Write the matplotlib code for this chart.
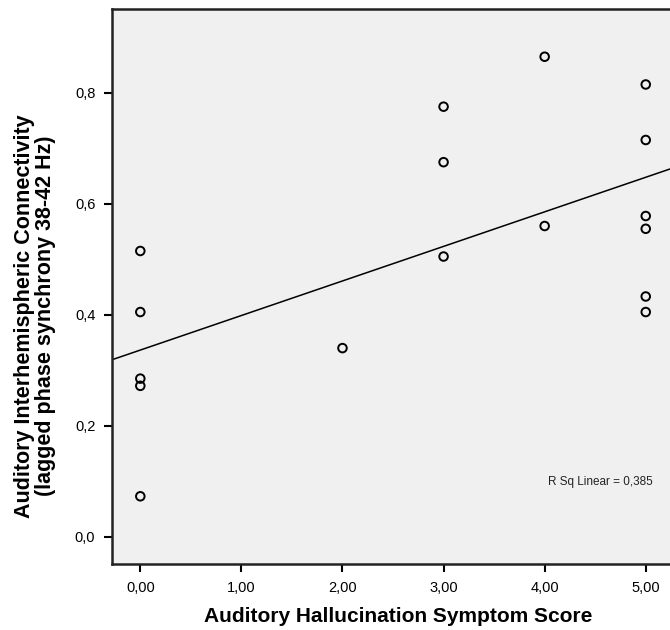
import numpy as np
import matplotlib
matplotlib.use("Agg")
import matplotlib.pyplot as plt
from matplotlib import font_manager

plt.rcParams['font.family'] = ['Liberation Sans', 'DejaVu Sans']
names = {f.name for f in font_manager.fontManager.ttflist}
narrow = 'Liberation Sans Narrow' if 'Liberation Sans Narrow' in names else 'Liberation Sans'

# Data
symptom_score = [0, 0, 0, 0, 0, 2, 3, 3, 3, 4, 4, 5, 5, 5, 5, 5, 5]
connectivity = [0.515, 0.405, 0.285, 0.272, 0.073, 0.340, 0.775, 0.675, 0.505,
                0.865, 0.560, 0.815, 0.715, 0.578, 0.555, 0.433, 0.405]
x_ticks = [0, 1, 2, 3, 4, 5]
x_tick_labels = ["0,00", "1,00", "2,00", "3,00", "4,00", "5,00"]
y_ticks = [0.0, 0.2, 0.4, 0.6, 0.8]
y_tick_labels = ["0,0", "0,2", "0,4", "0,6", "0,8"]
r_sq_text = "R Sq Linear = 0,385"

fig = plt.figure(figsize=(6.7, 6.3), dpi=100)
ax = fig.add_axes([112/670, 66/630, 1 - 112/670, (564 - 9)/630])
ax.set_facecolor('#f0f0f0')

xlim = (-0.28, 5.24)
ax.set_xlim(*xlim)
ax.set_ylim(-0.049, 0.951)

# Regression line
x = np.array(symptom_score, dtype=float)
y = np.array(connectivity)
slope, intercept = np.polyfit(x, y, 1)
xs = np.array(xlim)
ax.plot(xs, intercept + slope * xs, color='black', linewidth=1.1, zorder=2)

ax.scatter(x, y, s=38, facecolors='none', edgecolors='black', linewidths=1.4, zorder=3)

ax.text(4.03, 0.098, r_sq_text, fontsize=8.5, color='#222222', ha='left', va='center',
        family=narrow)

ax.set_xticks(x_ticks)
ax.set_xticklabels(x_tick_labels, family=narrow)
ax.set_yticks(y_ticks)
ax.set_yticklabels(y_tick_labels, family=narrow)
ax.tick_params(direction='out', length=6, width=1.5, labelsize=10.5, pad=6, colors='black')

ax.spines['right'].set_visible(False)
for side in ['left', 'bottom', 'top']:
    ax.spines[side].set_linewidth(1.8)
    ax.spines[side].set_color('#222222')

ax.set_xlabel("Auditory Hallucination Symptom Score", fontsize=15, fontweight='bold')
ax.xaxis.set_label_coords(0.513, -0.094)
ax.xaxis.label.set_va('center')
ax.set_ylabel("Auditory Interhemispheric Connectivity\n(lagged phase synchrony 38-42 Hz)",
              fontsize=15.5, fontweight='bold', linespacing=1.0)
ax.yaxis.set_label_coords(-0.138, 0.447)
ax.yaxis.label.set_va('center')

fig.savefig("out.png", dpi=100)
